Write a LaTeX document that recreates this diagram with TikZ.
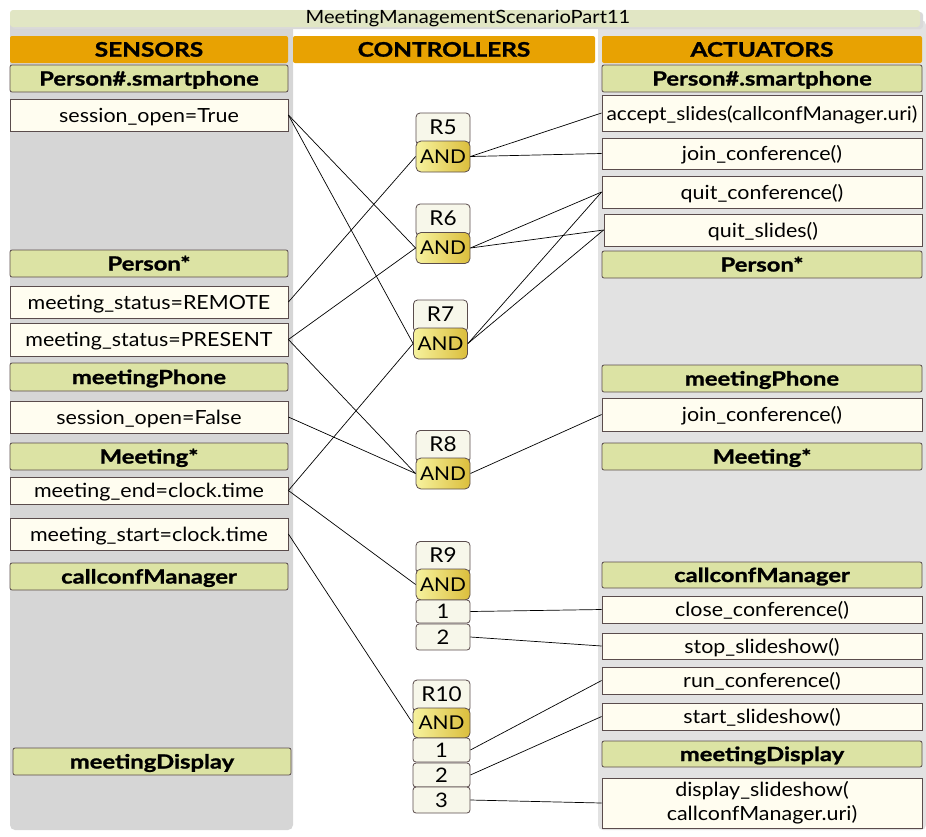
\documentclass[tikz,border=0pt]{standalone}
\usepackage{fontspec}
\setmainfont{Lato}[FakeStretch=1.1]
\newfontfamily\hdfont{Lato}[FakeStretch=1.22, FakeBold=1.2]
\definecolor{panelL}{HTML}{D6D6D6}
\definecolor{panelR}{HTML}{E2E2E2}
\definecolor{titlec}{HTML}{E1E6C4}
\definecolor{orangec}{HTML}{E8A202}
\definecolor{grnc}{HTML}{DCE3A4}
\definecolor{crmc}{HTML}{FFFDF0}
\definecolor{ctrlc}{HTML}{F7F7EA}
\definecolor{andl}{HTML}{F6F29E}
\definecolor{andr}{HTML}{DBBE3C}
\definecolor{bordc}{HTML}{5A4C4C}
\begin{document}
\begin{tikzpicture}[x=1pt,y=-1pt,
  base/.style={draw=bordc, line width=0.8pt, inner sep=0pt, text=black},
  grn/.style={base, fill=grnc, rounded corners=2pt, minimum height=27pt, text height=18pt, text depth=4pt, font=\hdfont\fontsize{19.5}{20}\selectfont\bfseries},
  crm/.style={base, fill=crmc, minimum height=32pt, text height=18pt, text depth=4pt, font=\fontsize{19.5}{20}\selectfont},
  sw/.style={minimum width=278pt},
  aw/.style={minimum width=320pt},
  hdr/.style={fill=orangec, rounded corners=2pt, inner sep=0pt, minimum height=27pt, text height=18.3pt, text depth=4pt, font=\hdfont\fontsize{20}{20}\selectfont\bfseries},
  ctrlh/.style={base, fill=ctrlc, rounded corners=4pt, minimum width=54pt, minimum height=32pt, text height=14pt, text depth=3.5pt, font=\fontsize{20.5}{20}\selectfont},
  andbox/.style={base, left color=andl, right color=andr, rounded corners=5pt, minimum width=54pt, minimum height=31pt, text height=17.6pt, text depth=4pt, font=\fontsize{19}{20}\selectfont},
  numbox/.style={base, fill=ctrlc, rounded corners=3pt, minimum width=54pt, minimum height=24pt, text height=18.3pt, text depth=4pt, font=\fontsize{20}{20}\selectfont},
  conn/.style={draw=black, line width=0.7pt}
]
\useasboundingbox (0,0) rectangle (926,836);
% panels
\fill[panelL, rounded corners=5pt] (10,20) rectangle (293,830);
\fill[panelR, rounded corners=5pt] (598,20) rectangle (926,830);
\fill[black!15, rounded corners=3pt] (12,12) rectangle (923,29);
\node[fill=titlec, rounded corners=3pt, minimum width=910pt, minimum height=17pt, inner sep=0pt, font=\fontsize{18.3}{20}\selectfont] (title) at (465,18.5) {\hspace*{6pt}MeetingManagementScenarioPart11};
% column headers
\node[hdr, minimum width=278pt] (hs) at (149,49.5) {SENSORS};
\node[hdr, minimum width=302pt] (hc) at (444,49.5) {CONTROLLERS};
\node[hdr, minimum width=320pt] (ha) at (762,49.5) {ACTUATORS};
% sensors
\node[grn, sw] (sH1) at (149,78.5) {Person\#.smartphone};
\node[crm, sw] (s1) at (149,115) {session\_open=True};
\node[grn, sw] (sH2) at (149,263.5) {Person*};
\node[crm, sw] (s2) at (149,302) {meeting\_status=REMOTE};
\node[crm, sw, minimum height=33pt] (s3) at (149,339.5) {meeting\_status=PRESENT};
\node[grn, sw, minimum height=28pt] (sH3) at (149,377) {meetingPhone};
\node[crm, sw] (s4) at (149,417) {session\_open=False};
\node[grn, sw] (sH4) at (149,456.5) {Meeting*};
\node[crm, sw, minimum height=27pt] (s5) at (149,490.5) {meeting\_end=clock.time};
\node[crm, sw] (s6) at (149,534) {meeting\_start=clock.time};
\node[grn, sw] (sH5) at (149,576.5) {callconfManager};
\node[grn, sw] (sH6) at (152,761.5) {meetingDisplay};
% actuators
\node[grn, aw] (aH1) at (762,78.5) {Person\#.smartphone};
\node[crm, aw, minimum height=36pt, font=\fontsize{19}{20}\selectfont] (a1) at (762,113) {accept\_slides(callconfManager.uri)};
\node[crm, aw, minimum height=31pt] (a2) at (762,153.5) {join\_conference()};
\node[crm, aw] (a3) at (762,192) {quit\_conference()};
\node[crm, minimum width=318pt] (a4) at (763,230) {quit\_slides()};
\node[grn, aw] (aH2) at (762,264.5) {Person*};
\node[grn, aw] (aH3) at (762,378.5) {meetingPhone};
\node[crm, aw, minimum height=33pt] (a5) at (762,414.5) {join\_conference()};
\node[grn, aw] (aH4) at (762,456.5) {Meeting*};
\node[grn, aw, minimum height=26pt] (aH5) at (762,575) {callconfManager};
\node[crm, aw, minimum height=27pt] (a6) at (762,609.5) {close\_conference()};
\node[crm, aw, minimum height=26pt] (a7) at (762,646) {stop\_slideshow()};
\node[crm, aw, minimum height=27pt] (a8) at (762,680.5) {run\_conference()};
\node[crm, aw, minimum height=27pt] (a9) at (762,716.5) {start\_slideshow()};
\node[grn, aw, minimum height=26pt] (aH6) at (762,754) {meetingDisplay};
\node[base, fill=crmc, aw, minimum height=50pt, align=center, font=\fontsize{19.5}{24}\selectfont] (a10) at (762,803) {display\_slideshow(\\callconfManager.uri)};
% controllers
\node[ctrlh] (R5h) at (443,129) {R5};
\node[andbox] (R5) at (443,156.5) {AND};
\node[ctrlh] (R6h) at (443,220) {R6};
\node[andbox] (R6) at (443,248) {AND};
\node[ctrlh] (R7h) at (440.5,316) {R7};
\node[andbox] (R7) at (440.5,343.5) {AND};
\node[ctrlh] (R8h) at (443,446.5) {R8};
\node[andbox] (R8) at (443,473.5) {AND};
\node[ctrlh] (R9h) at (443,557.5) {R9};
\node[andbox] (R9) at (443,584.5) {AND};
\node[numbox, minimum height=23pt] (R9a) at (443,611.5) {1};
\node[numbox, minimum height=26pt] (R9b) at (443,637) {2};
\node[ctrlh, minimum width=57pt] (R10h) at (441.5,696) {R10};
\node[andbox, minimum width=57pt, minimum height=30pt] (R10) at (441.5,723) {AND};
\node[numbox, minimum width=57pt] (R10a) at (441.5,750) {1};
\node[numbox, minimum width=57pt] (R10b) at (441.5,775) {2};
\node[numbox, minimum width=57pt, minimum height=26pt] (R10c) at (441.5,800) {3};
% sensor -> controller
\draw[conn] (s2.east) -- (R5.west);
\draw[conn] (s1.east) -- (R6.west);
\draw[conn] (s3.east) -- (R6.west);
\draw[conn] (s1.east) -- (R7.west);
\draw[conn] (s5.east) -- (R7.west);
\draw[conn] (s3.east) -- (R8.west);
\draw[conn] (s4.east) -- (R8.west);
\draw[conn] (s5.east) -- (R9.west);
\draw[conn] (s6.east) -- (R10.west);
% controller -> actuator
\draw[conn] (R5.east) -- (a1.west);
\draw[conn] (R5.east) -- (a2.west);
\draw[conn] (R6.east) -- (a3.west);
\draw[conn] (R6.east) -- (a4.west);
\draw[conn] (R7.east) -- (a3.west);
\draw[conn] (R7.east) -- (a4.west);
\draw[conn] (R8.east) -- (a5.west);
\draw[conn] (R9a.east) -- (a6.west);
\draw[conn] (R9b.east) -- (a7.west);
\draw[conn] (R10a.east) -- (a8.west);
\draw[conn] (R10b.east) -- (a9.west);
\draw[conn] (R10c.east) -- (a10.west);
\end{tikzpicture}
\end{document}
